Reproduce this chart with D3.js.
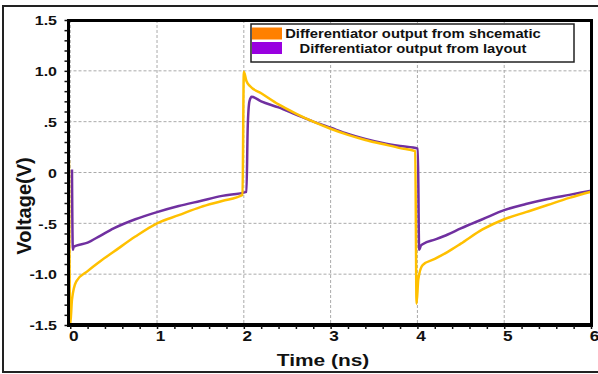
<!DOCTYPE html>
<html lang="en">
<head>
<meta charset="UTF-8">
<title>Differentiator output</title>
<script src="https://cdn.jsdelivr.net/npm/d3@7"></script>
<style>
    body { margin: 0; background: #fff; }
    text { font-family: "Liberation Sans", Arial, sans-serif; font-weight: bold; fill: #111; }
    .frame { fill: none; stroke: #000; shape-rendering: crispEdges; }
</style>
</head>
<body>
<script>
// values
var timeSch = [-0.015, 0.0, 0.02, 0.07, 0.2, 0.35, 0.5, 0.75, 1.0, 1.25, 1.5, 1.75, 1.985, 2.0, 2.03, 2.07, 2.2, 2.4, 2.6, 2.8, 3.0, 3.2, 3.4, 3.6, 3.8, 3.975, 3.99, 4.01, 4.06, 4.2, 4.35, 4.5, 4.75, 5.0, 5.25, 5.5, 5.75, 6.0];
var voltSch = [0.12, -1.5, -1.25, -1.07, -0.97, -0.87, -0.78, -0.63, -0.5, -0.42, -0.34, -0.28, -0.22, 0.99, 0.9, 0.85, 0.78, 0.67, 0.58, 0.5, 0.43, 0.37, 0.32, 0.28, 0.24, 0.21, -1.29, -1.05, -0.91, -0.85, -0.78, -0.7, -0.56, -0.46, -0.39, -0.32, -0.25, -0.19];

var timeLay = [0.02, 0.03, 0.04, 0.07, 0.2, 0.35, 0.5, 0.75, 1.0, 1.25, 1.5, 1.75, 2.03, 2.045, 2.065, 2.09, 2.2, 2.4, 2.6, 2.8, 3.0, 3.2, 3.4, 3.6, 3.8, 4.005, 4.02, 4.04, 4.07, 4.2, 4.35, 4.5, 4.75, 5.0, 5.25, 5.5, 5.75, 6.0];
var voltLay = [0.03, -0.76, -0.73, -0.72, -0.69, -0.62, -0.55, -0.46, -0.39, -0.33, -0.28, -0.23, -0.19, 0.45, 0.7, 0.745, 0.7, 0.64, 0.57, 0.5, 0.44, 0.38, 0.33, 0.29, 0.26, 0.235, -0.76, -0.72, -0.7, -0.66, -0.61, -0.55, -0.46, -0.37, -0.31, -0.26, -0.22, -0.18];

var xTicks = [0, 1, 2, 3, 4, 5, 6];
var yTicks = [-1.5, -1, -0.5, 0, 0.5, 1, 1.5];
var yTickLabels = ["-1.5", "-1.0", "-.5", "0", ".5", "1.0", "1.5"];
var seriesNames = ["Differentiator output from shcematic", "Differentiator output from layout"];

var W = 598, H = 374;
var pLeft = 68.5, pRight = 591, pTop = 20, pBottom = 325;
var sx = 1.23; // text in the picture is stretched sideways

var svg = d3.select("body").append("svg")
    .attr("width", W)
    .attr("height", H);

var x = d3.scaleLinear().domain([-0.02, 6]).range([pLeft, pRight]);
var y = d3.scaleLinear().domain([-1.5, 1.5]).range([pBottom, pTop]);

// outer frame
svg.append("rect")
    .attr("class", "frame")
    .attr("x", 3).attr("y", 6)
    .attr("width", 600).attr("height", 366)
    .style("stroke", "#222").style("stroke-width", "2px");

// grid
var grid = svg.append("g");
grid.selectAll(".gx").data(xTicks).enter().append("line")
    .attr("x1", d => x(d)).attr("x2", d => x(d))
    .attr("y1", pTop).attr("y2", pBottom);
grid.selectAll(".gy").data(yTicks).enter().append("line")
    .attr("x1", pLeft).attr("x2", pRight)
    .attr("y1", d => y(d)).attr("y2", d => y(d));
grid.selectAll("line")
    .attr("stroke", "#aaa").attr("stroke-width", 1).attr("stroke-dasharray", "3,2");

// series
var line = d3.line()
    .x(d => x(d[0]))
    .y(d => y(d[1]))
    .curve(d3.curveMonotoneX);

svg.append("path")
    .datum(d3.zip(timeLay, voltLay))
    .attr("d", line)
    .attr("fill", "none").attr("stroke", "#7030a0").attr("stroke-width", 2.5);

svg.append("path")
    .datum(d3.zip(timeSch, voltSch))
    .attr("d", line)
    .attr("fill", "none").attr("stroke", "#ffc000").attr("stroke-width", 2.5);

// plot frame
svg.append("rect")
    .attr("class", "frame")
    .attr("x", pLeft).attr("y", pTop)
    .attr("width", pRight - pLeft).attr("height", pBottom - pTop)
    .style("stroke-width", "3px");
svg.append("path")
    .attr("class", "frame")
    .attr("d", "M" + pLeft + "," + pTop + "V" + pBottom + "H" + pRight)
    .style("stroke-width", "3.5px");

// minor ticks
var xAxisMinor = d3.axisBottom(x).tickValues(d3.range(0, 6.01, 0.2)).tickSize(3).tickFormat("");
var yAxisMinor = d3.axisLeft(y).tickValues(d3.range(-15, 16).map(d => d / 10)).tickSize(3).tickFormat("");
svg.append("g").attr("transform", "translate(0," + (pBottom + 1) + ")").call(xAxisMinor).select(".domain").remove();
svg.append("g").attr("transform", "translate(" + (pLeft - 1) + ",0)").call(yAxisMinor).select(".domain").remove();
svg.selectAll(".tick line").attr("stroke", "#111").attr("stroke-width", 1.5);

// tick labels
var xAxis = d3.axisBottom(x).tickValues(xTicks).tickSize(0).tickPadding(6).tickFormat(d3.format("d"));
var gx = svg.append("g").attr("transform", "translate(0," + pBottom + ")").call(xAxis);
gx.select(".domain").remove();
gx.selectAll("text")
    .attr("font-size", 14).attr("font-family", null).attr("fill", "#111")
    .attr("transform", "translate(3,0) scale(" + sx + ",1)");

var yAxis = d3.axisLeft(y).tickValues(yTicks).tickSize(0).tickPadding(0)
    .tickFormat((d, i) => yTickLabels[i]);
var gy = svg.append("g").attr("transform", "translate(" + pLeft + ",0)").call(yAxis);
gy.select(".domain").remove();
gy.selectAll("text")
    .attr("font-size", 13).attr("font-family", null).attr("fill", "#111")
    .attr("x", 0).attr("dy", "0.36em")
    .attr("transform", "translate(-11.5,0) scale(" + sx + ",1)");

// axis titles
svg.append("text")
    .attr("transform", "translate(323,366) scale(" + sx + ",1)")
    .attr("text-anchor", "middle")
    .attr("font-size", 17)
    .text("Time (ns)");

svg.append("text")
    .attr("transform", "translate(31,206) rotate(-90)")
    .attr("text-anchor", "middle")
    .attr("font-size", 20)
    .text("Voltage(V)");

// legend
var legend = svg.append("g").attr("transform", "translate(251,24)");
legend.append("rect")
    .attr("width", 323).attr("height", 38)
    .attr("fill", "#fff").attr("stroke", "#222").attr("stroke-width", 1.5);
var swatch = ["#ff8000", "#9900e0"];
legend.selectAll(".sw").data(seriesNames).enter().append("rect")
    .attr("x", 1).attr("y", (d, i) => 3.5 + i * 14.5)
    .attr("width", 30).attr("height", 12)
    .attr("fill", (d, i) => swatch[i]);
legend.selectAll(".lt").data(seriesNames).enter().append("text")
    .attr("transform", (d, i) => "translate(162," + (14 + i * 14.5) + ") scale(" + sx + ",1)")
    .attr("text-anchor", "middle")
    .attr("font-size", 12)
    .text(d => d);
</script>
</body>
</html>
